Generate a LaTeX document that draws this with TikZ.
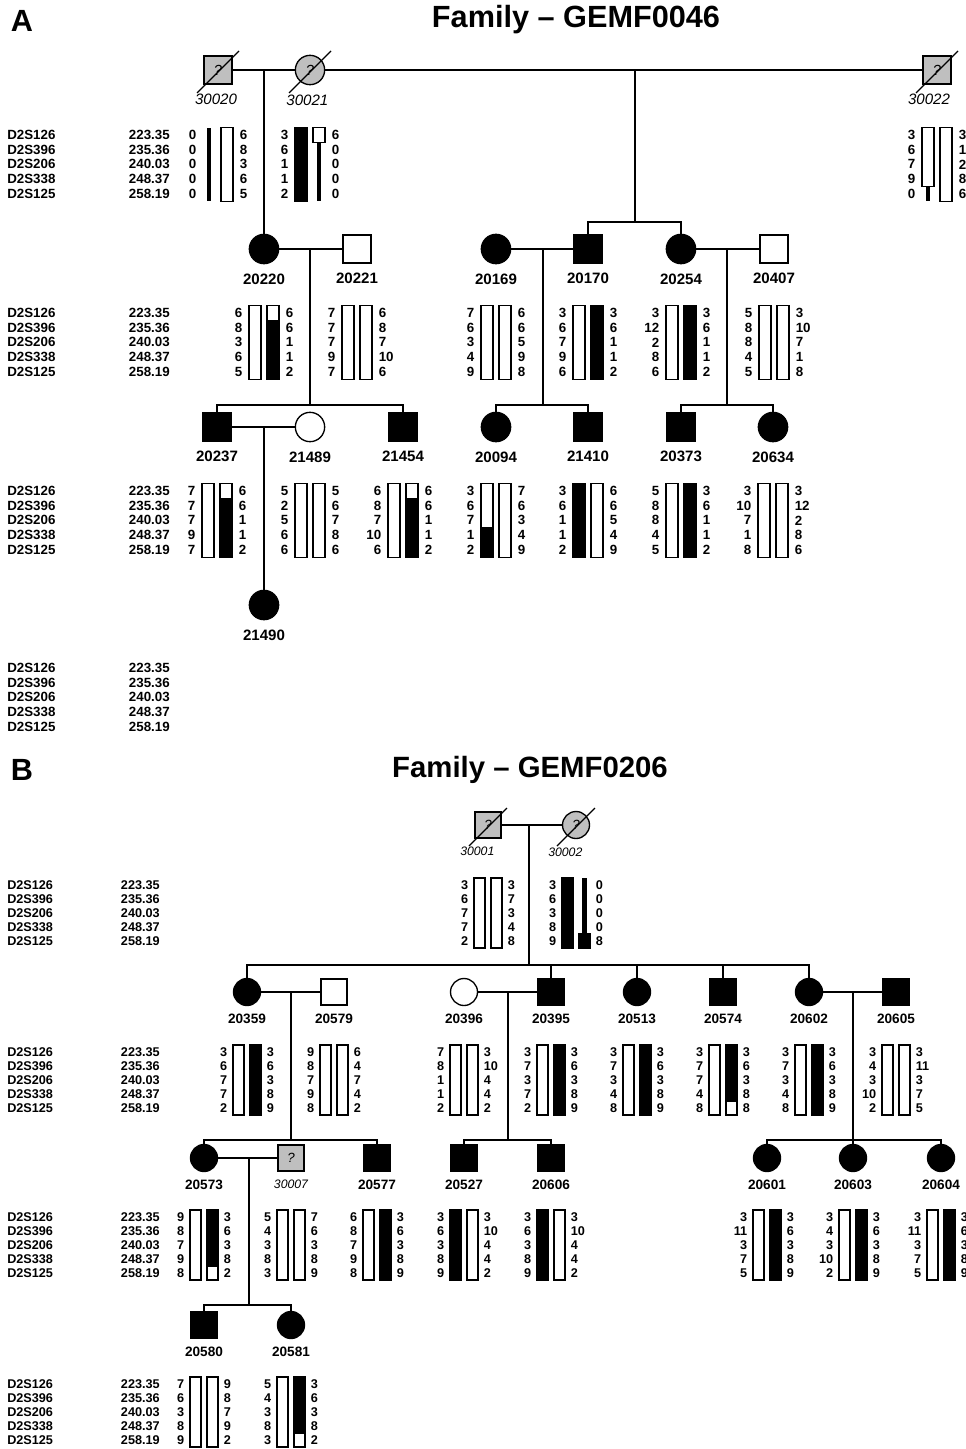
\documentclass[tikz,border=0pt]{standalone}
\usepackage{fontspec}
\setmainfont{Liberation Sans}
\usetikzlibrary{positioning}

% one segment of a haplotype bar: x left, x right, y of first row, kind (w/b/t), from row, to row
\newcommand{\hapseg}[6]{%
  \if#4t%
    \fill[black] ({(#1+#2)/2-2.3},{#3+(#5-0.5)*\rowh}) rectangle ({(#1+#2)/2+2.3},{#3+(#6-0.5)*\rowh});%
  \else
    \if#4b\def\segcol{black}\else\def\segcol{white}\fi
    \draw[hapbox, fill=\segcol] (#1,{#3+(#5-0.5)*\rowh}) rectangle (#2,{#3+(#6-0.5)*\rowh});%
  \fi}

% haplotype: x, y of first row, left alleles, left bar, right bar, right alleles
\newcommand{\haplo}[6]{%
  \foreach \sk/\sa/\sb in {#4}
    \hapseg{#1-\barout}{#1-\barin}{#2}{\sk}{\sa}{\sb};
  \foreach \sk/\sa/\sb in {#5}
    \hapseg{#1+\barin}{#1+\barout}{#2}{\sk}{\sa}{\sb};
  \foreach \al [count=\i from 0] in {#3}
    \node[allele, anchor=east] (al-#1-#2-L\i) at (#1-\numoff, #2+\i*\rowh) {\al};
  \foreach \al [count=\i from 0] in {#6}
    \node[allele, anchor=west] (al-#1-#2-R\i) at (#1+\numoff, #2+\i*\rowh) {\al};
}

% marker names and positions: right edge of position column, y of first row
\newcommand{\markerlist}[2]{%
  \foreach \mn/\mp [count=\i from 0] in {D2S126/223.35, D2S396/235.36, D2S206/240.03, D2S338/248.37, D2S125/258.19} {
    \node[mk, anchor=west] (mn-#2-\i) at (7, #2+\i*\rowh) {\mn};
    \node[mk, anchor=east] (mp-#2-\i) at (#1, #2+\i*\rowh) {\mp};
  }}

\begin{document}
\begin{tikzpicture}[
    x=0.75pt, y=-0.75pt,
    link/.style={line width=1pt},
    sym/.style={draw, line width=1pt, inner sep=0pt},
    sq/.style={sym, rectangle, minimum size=21pt},
    ci/.style={sym, circle, minimum size=22pt},
    aff/.style={fill=black},
    unaff/.style={fill=white},
    unk/.style={fill=black!25, font=\fontsize{11}{12}\selectfont\itshape},
    pid/.style={font=\fontsize{11.3}{13}\selectfont\bfseries, inner sep=0pt},
    fid/.style={font=\fontsize{11.3}{13}\selectfont\itshape, inner sep=0pt},
    mk/.style={font=\fontsize{10}{12}\selectfont\bfseries, inner sep=0pt},
    allele/.style={mk},
    hapbox/.style={line width=0.8pt},
    title/.style={font=\fontsize{23}{27}\selectfont\bfseries, inner sep=0pt},
  ]

  \path[use as bounding box, fill=white] (0,0) rectangle (966,1449);

  % ======================= Panel A =======================
  \begin{scope}
  \def\rowh{14.7}\def\barin{3}\def\barout{15}\def\numoff{21.5}

  \node[title] (panelA) at (22,21) {A};
  \node[title] (titleA) at (576,20) {Family – GEMF0046};

  % --- founders -------------------------------------------
  \node[sq, unk] (p30020) at (218,70) {?};
  \node[ci, unk] (p30021) at (310,70) {?};
  \node[sq, unk] (p30022) at (937,70) {?};
  \foreach \n in {p30020, p30021, p30022}
    \draw[link] ([shift={(-21,23)}]\n.center) -- ([shift={(21,-19)}]\n.center);
  \node[fid, below=7pt of p30020, xshift=-1.5pt] (l30020) {30020};
  \node[fid, below=7pt of p30021, xshift=-2pt] (l30021) {30021};
  \node[fid, below=7pt of p30022, xshift=-6pt] (l30022) {30022};

  \markerlist{170}{135}
  \haplo{218}{135}{0,0,0,0,0}{t/0/5}{w/0/5}{6,8,3,6,5}
  \haplo{310}{135}{3,6,1,1,2}{b/0/5}{w/0/1,t/1/5}{6,0,0,0,0}
  \haplo{937}{135}{3,6,7,9,0}{w/0/4,t/4/5}{w/0/5}{3,12,2,8,6}

  % --- second generation ----------------------------------
  \node[ci, aff]   (p20220) at (264,249) {};
  \node[sq, unaff] (p20221) at (357,249) {};
  \node[ci, aff]   (p20169) at (496,249) {};
  \node[sq, aff]   (p20170) at (588,249) {};
  \node[ci, aff]   (p20254) at (681,249) {};
  \node[sq, unaff] (p20407) at (774,249) {};
  \foreach \n in {20220, 20221, 20169, 20170, 20254, 20407}
    \node[pid, below=7pt of p\n] (l\n) {\n};

  \markerlist{170}{313}
  \haplo{264}{313}{6,8,3,6,5}{w/0/5}{w/0/1,b/1/5}{6,6,1,1,2}
  \haplo{357}{313}{7,7,7,9,7}{w/0/5}{w/0/5}{6,8,7,10,6}
  \haplo{496}{313}{7,6,3,4,9}{w/0/5}{w/0/5}{6,6,5,9,8}
  \haplo{588}{313}{3,6,7,9,6}{w/0/5}{b/0/5}{3,6,1,1,2}
  \haplo{681}{313}{3,12,2,8,6}{w/0/5}{b/0/5}{3,6,1,1,2}
  \haplo{774}{313}{5,8,8,4,5}{w/0/5}{w/0/5}{3,10,7,1,8}

  % --- third generation -----------------------------------
  \node[sq, aff]   (p20237) at (217,427) {};
  \node[ci, unaff] (p21489) at (310,427) {};
  \node[sq, aff]   (p21454) at (403,427) {};
  \node[ci, aff]   (p20094) at (496,427) {};
  \node[sq, aff]   (p21410) at (588,427) {};
  \node[sq, aff]   (p20373) at (681,427) {};
  \node[ci, aff]   (p20634) at (773,427) {};
  \foreach \n in {20237, 21489, 21454, 20094, 21410, 20373, 20634}
    \node[pid, below=7pt of p\n] (l\n) {\n};

  \markerlist{170}{491}
  \haplo{217}{491}{7,7,7,9,7}{w/0/5}{w/0/1,b/1/5}{6,6,1,1,2}
  \haplo{310}{491}{5,2,5,6,6}{w/0/5}{w/0/5}{5,6,7,8,6}
  \haplo{403}{491}{6,8,7,10,6}{w/0/5}{w/0/1,b/1/5}{6,6,1,1,2}
  \haplo{496}{491}{3,6,7,1,2}{w/0/3,b/3/5}{w/0/5}{7,6,3,4,9}
  \haplo{588}{491}{3,6,1,1,2}{b/0/5}{w/0/5}{6,6,5,4,9}
  \haplo{681}{491}{5,8,8,4,5}{w/0/5}{b/0/5}{3,6,1,1,2}
  \haplo{773}{491}{3,10,7,1,8}{w/0/5}{w/0/5}{3,12,2,8,6}

  % --- fourth generation ----------------------------------
  \node[ci, aff] (p21490) at (264,605) {};
  \node[pid, below=7pt of p21490] (l21490) {21490};
  \markerlist{170}{668}

  % --- lines of descent -----------------------------------
  \coordinate (mA1) at (264,70);
  \coordinate (mA2) at (635,70);
  \coordinate (sA2) at (635,222);
  \coordinate (mA3) at (310,249);
  \coordinate (sA3) at (310,405);
  \coordinate (mA4) at (543,249);
  \coordinate (sA4) at (543,405);
  \coordinate (mA5) at (727,249);
  \coordinate (sA5) at (727,405);
  \coordinate (mA6) at (264,427);

  \draw[link] (p30020) -- (p30021) -- (p30022);
  \draw[link] (mA1) -- (p20220);
  \draw[link] (mA2) -- (sA2);
  \draw[link] (p20170) |- (sA2) -| (p20254);
  \draw[link] (p20220) -- (p20221);
  \draw[link] (p20169) -- (p20170);
  \draw[link] (p20254) -- (p20407);
  \draw[link] (mA3) -- (sA3);
  \draw[link] (mA4) -- (sA4);
  \draw[link] (mA5) -- (sA5);
  \draw[link] (p20237) |- (sA3) -| (p21454);
  \draw[link] (p20094) |- (sA4) -| (p21410);
  \draw[link] (p20373) |- (sA5) -| (p20634);
  \draw[link] (p20237) -- (p21489);
  \draw[link] (mA6) -- (p21490);
  \end{scope}

  % ======================= Panel B =======================
  \begin{scope}[
      sq/.append style={minimum size=19.5pt},
      ci/.append style={minimum size=20.25pt},
      pid/.append style={font=\fontsize{10.2}{12}\selectfont\bfseries},
      fid/.append style={font=\fontsize{9.2}{11}\selectfont\itshape},
      mk/.append style={font=\fontsize{9.5}{11}\selectfont\bfseries},
      unk/.append style={font=\fontsize{10}{11}\selectfont\itshape},
    ]
  \def\rowh{14}\def\barin{3}\def\barout{14}\def\numoff{19.5}

  \node[title] (panelB) at (22,770) {B};
  \node[title, font=\fontsize{22}{26}\selectfont\bfseries] (titleB) at (530,770) {Family – GEMF0206};

  % --- founders -------------------------------------------
  \node[sq, unk] (p30001) at (488,825) {?};
  \node[ci, unk] (p30002) at (576,825) {?};
  \foreach \n in {p30001, p30002}
    \draw[link] ([shift={(-19,21)}]\n.center) -- ([shift={(19,-17)}]\n.center);
  \node[fid, below=6pt of p30001, xshift=-8pt] (l30001) {30001};
  \node[fid, below=6pt of p30002, xshift=-8pt] (l30002) {30002};

  \markerlist{160}{885}
  \haplo{488}{885}{3,6,7,7,2}{w/0/5}{w/0/5}{3,7,3,4,8}
  \haplo{576}{885}{3,6,3,8,9}{b/0/5}{t/0/4,b/4/5}{0,0,0,0,8}

  % --- second generation ----------------------------------
  \node[ci, aff]   (p20359) at (247,992) {};
  \node[sq, unaff] (p20579) at (334,992) {};
  \node[ci, unaff] (p20396) at (464,992) {};
  \node[sq, aff]   (p20395) at (551,992) {};
  \node[ci, aff]   (p20513) at (637,992) {};
  \node[sq, aff]   (p20574) at (723,992) {};
  \node[ci, aff]   (p20602) at (809,992) {};
  \node[sq, aff]   (p20605) at (896,992) {};
  \foreach \n in {20359, 20579, 20396, 20395, 20513, 20574, 20602, 20605}
    \node[pid, below=6pt of p\n] (l\n) {\n};

  \markerlist{160}{1052}
  \haplo{247}{1052}{3,6,7,7,2}{w/0/5}{b/0/5}{3,6,3,8,9}
  \haplo{334}{1052}{9,8,7,9,8}{w/0/5}{w/0/5}{6,4,7,4,2}
  \haplo{464}{1052}{7,8,1,1,2}{w/0/5}{w/0/5}{3,10,4,4,2}
  \haplo{551}{1052}{3,7,3,7,2}{w/0/5}{b/0/5}{3,6,3,8,9}
  \haplo{637}{1052}{3,7,3,4,8}{w/0/5}{b/0/5}{3,6,3,8,9}
  \haplo{723}{1052}{3,7,7,4,8}{w/0/5}{b/0/4,w/4/5}{3,6,3,8,8}
  \haplo{809}{1052}{3,7,3,4,8}{w/0/5}{b/0/5}{3,6,3,8,9}
  \haplo{896}{1052}{3,4,3,10,2}{w/0/5}{w/0/5}{3,11,3,7,5}

  % --- third generation -----------------------------------
  \node[ci, aff] (p20573) at (204,1158) {};
  \node[sq, unk] (p30007) at (291,1158) {?};
  \node[sq, aff] (p20577) at (377,1158) {};
  \node[sq, aff] (p20527) at (464,1158) {};
  \node[sq, aff] (p20606) at (551,1158) {};
  \node[ci, aff] (p20601) at (767,1158) {};
  \node[ci, aff] (p20603) at (853,1158) {};
  \node[ci, aff] (p20604) at (941,1158) {};
  \foreach \n in {20573, 20577, 20527, 20606, 20601, 20603, 20604}
    \node[pid, below=6pt of p\n] (l\n) {\n};
  \node[fid, below=6pt of p30007] (l30007) {30007};

  \markerlist{160}{1217}
  \haplo{204}{1217}{9,8,7,9,8}{w/0/5}{b/0/4,w/4/5}{3,6,3,8,2}
  \haplo{291}{1217}{5,4,3,8,3}{w/0/5}{w/0/5}{7,6,3,8,9}
  \haplo{377}{1217}{6,8,7,9,8}{w/0/5}{b/0/5}{3,6,3,8,9}
  \haplo{464}{1217}{3,6,3,8,9}{b/0/5}{w/0/5}{3,10,4,4,2}
  \haplo{551}{1217}{3,6,3,8,9}{b/0/5}{w/0/5}{3,10,4,4,2}
  \haplo{767}{1217}{3,11,3,7,5}{w/0/5}{b/0/5}{3,6,3,8,9}
  \haplo{853}{1217}{3,4,3,10,2}{w/0/5}{b/0/5}{3,6,3,8,9}
  \haplo{941}{1217}{3,11,3,7,5}{w/0/5}{b/0/5}{3,6,3,8,9}

  % --- fourth generation ----------------------------------
  \node[sq, aff] (p20580) at (204,1325) {};
  \node[ci, aff] (p20581) at (291,1325) {};
  \foreach \n in {20580, 20581}
    \node[pid, below=6pt of p\n] (l\n) {\n};

  \markerlist{160}{1384}
  \haplo{204}{1384}{7,6,3,8,9}{w/0/5}{w/0/5}{9,8,7,9,2}
  \haplo{291}{1384}{5,4,3,8,3}{w/0/5}{b/0/4,w/4/5}{3,6,3,8,2}

  % --- lines of descent -----------------------------------
  \coordinate (mB1) at (529,825);
  \coordinate (sB1) at (529,965);
  \coordinate (mB2) at (291,992);
  \coordinate (sB2) at (291,1140);
  \coordinate (mB3) at (508,992);
  \coordinate (sB3) at (508,1140);
  \coordinate (mB4) at (853,992);
  \coordinate (sB4) at (853,1140);
  \coordinate (mB5) at (249,1158);
  \coordinate (sB5) at (249,1305);

  \draw[link] (p30001) -- (p30002);
  \draw[link] (mB1) -- (sB1);
  \draw[link] (p20359) |- (sB1) -| (p20602);
  \foreach \n in {p20395, p20513, p20574}
    \draw[link] (\n) -- (\n |- sB1);
  \draw[link] (p20359) -- (p20579);
  \draw[link] (p20396) -- (p20395);
  \draw[link] (p20602) -- (p20605);
  \draw[link] (mB2) -- (sB2);
  \draw[link] (mB3) -- (sB3);
  \draw[link] (mB4) -- (p20603);
  \draw[link] (p20573) |- (sB2) -| (p20577);
  \draw[link] (p20527) |- (sB3) -| (p20606);
  \draw[link] (p20601) |- (sB4) -| (p20604);
  \draw[link] (p20573) -- (p30007);
  \draw[link] (mB5) -- (sB5);
  \draw[link] (p20580) |- (sB5) -| (p20581);
  \end{scope}

\end{tikzpicture}
\end{document}
